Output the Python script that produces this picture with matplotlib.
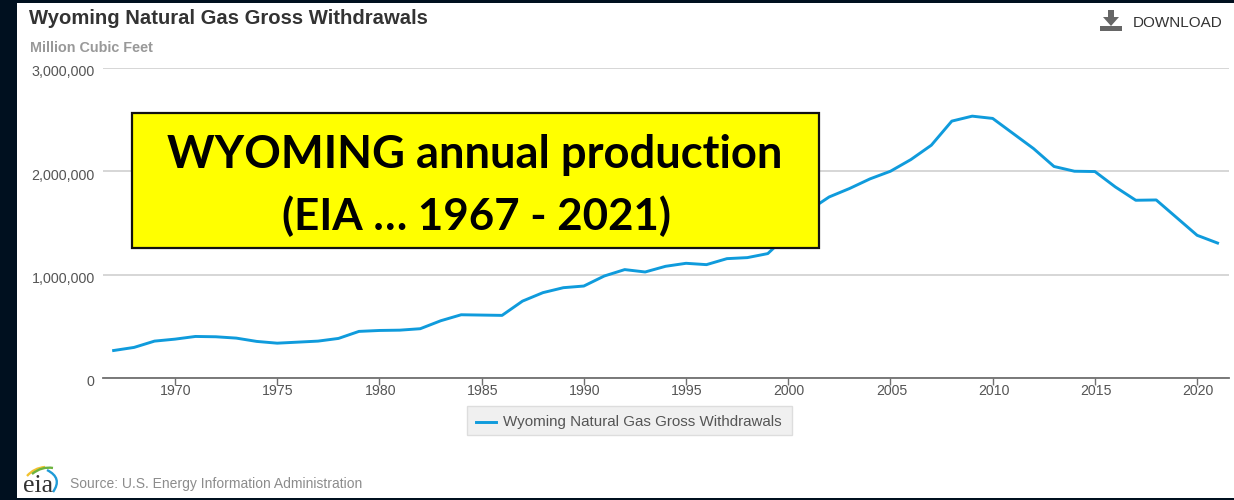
import matplotlib
matplotlib.use('Agg')
import matplotlib.pyplot as plt
from matplotlib.patches import Rectangle, Polygon, PathPatch
from matplotlib.path import Path
from matplotlib.transforms import ScaledTranslation

W, H = 1234, 500

years = list(range(1967, 2022))
gas = [266, 296, 357, 376, 402, 399, 386, 354, 337, 347,
       357, 383, 451, 460, 463, 477, 554, 612, 609, 606,
       744, 826, 874, 890, 987, 1049, 1026, 1081, 1110, 1097,
       1155, 1165, 1204, 1390, 1620, 1752, 1834, 1927, 2001, 2114,
       2253, 2486, 2534, 2512, 2366, 2220, 2047, 2001, 1998, 1849,
       1720, 1723, 1552, 1381, 1306]
gas = [v * 1000 for v in gas]

yticks = [0, 1000000, 2000000, 3000000]
xticks = list(range(1970, 2021, 5))
series_name = 'Wyoming Natural Gas Gross Withdrawals'
blue = '#0f9bdc'

plt.rcParams['font.family'] = ['Liberation Sans', 'DejaVu Sans']
fig = plt.figure(figsize=(W / 100, H / 100), dpi=100, facecolor='#00101f')

# whole figure in pixels, for the page furniture
page = fig.add_axes([0, 0, 1, 1], zorder=0)
page.set_xlim(0, W)
page.set_ylim(H, 0)
page.axis('off')
page.add_patch(Rectangle((17, 3), W - 17, 495, fc='white', ec='none'))

# plot area
ax = fig.add_axes([103 / W, 1 - 378 / H, 1126 / W, 310 / H], zorder=1)
ax.patch.set_alpha(0)
ax.plot(years, gas, color=blue, lw=2.1, solid_joinstyle='round', zorder=3, label=series_name)
ax.set_xlim(1966.48, 2021.56)
ax.set_ylim(0, 3000000)
ax.set_yticks(yticks)
ax.set_yticklabels([f'{v:,}' for v in yticks])
ax.set_xticks(xticks)
ax.grid(axis='y', color='#cfcfcf', lw=1.2)
ax.set_axisbelow(True)
for s in ['top', 'right', 'left']:
    ax.spines[s].set_visible(False)
ax.spines['bottom'].set_color('#707070')
ax.spines['bottom'].set_linewidth(1.3)
ax.tick_params(axis='y', length=0, pad=6, labelsize=10.3, labelcolor='#555555')
ax.tick_params(axis='x', length=5, width=1, color='#707070', pad=-1, labelsize=10.2, labelcolor='#555555')
# labels sit a bit off the tick in the original
px = 1 / fig.dpi
for t in ax.get_yticklabels():
    t.set_transform(t.get_transform() + ScaledTranslation(0, -3 * px, fig.dpi_scale_trans))
for t in ax.get_xticklabels():
    t.set_transform(t.get_transform() + ScaledTranslation(1 * px, 0, fig.dpi_scale_trans))

# headings
page.text(29, 19, series_name, fontsize=14.6, fontweight='bold', color='#333333', va='center')
page.text(30, 47.5, 'Million Cubic Feet', fontsize=10.4, fontweight='bold', color='#999999', va='center')
page.text(1133, 23, 'DOWNLOAD', fontsize=11, color='#333333', va='center')

# download icon
page.add_patch(Rectangle((1100, 26), 22, 5, fc='#666666', ec='none'))
page.add_patch(Polygon([(1108, 10), (1114, 10), (1114, 17), (1119, 17), (1111, 26), (1103, 17), (1108, 17)],
                       fc='#666666', ec='none'))

# legend box
page.add_patch(Rectangle((466.5, 405.5), 325, 29, fc='#f0f0f0', ec='#dddddd', lw=1))
page.plot([476, 496], [422, 422], color=blue, lw=2.1)
page.text(503, 422, series_name, fontsize=10.9, color='#555555', va='center')

# source line and eia mark
page.text(70.5, 484, 'Source: U.S. Energy Information Administration', fontsize=10, color='#8c8c8c', va='center')
page.text(22.5, 492, 'eia', fontsize=18.5, family='Liberation Serif', color='#333333', va='baseline')
for pts, col in [([(27, 476), (34, 468), (45, 467)], '#f2c230'),
                 ([(32, 474), (42, 466), (53, 468)], '#6cb33f'),
                 ([(47, 470), (63, 478), (53, 492)], '#1f9bd7')]:
    page.add_patch(PathPatch(Path(pts, [Path.MOVETO, Path.CURVE3, Path.CURVE3]), fc='none', ec=col, lw=1.7))

# yellow call-out on top of the chart
over = fig.add_axes([0, 0, 1, 1], zorder=2)
over.set_xlim(0, W)
over.set_ylim(H, 0)
over.axis('off')
over.add_patch(Rectangle((132, 113), 687, 135, fc='#ffff00', ec='#111111', lw=1.6))
over.text(475, 155.5, 'WYOMING annual production', fontsize=32.7, fontweight='bold',
          family=['Lato', 'DejaVu Sans'], color='black', ha='center', va='center')
over.text(476, 216, '(EIA … 1967 - 2021)', fontsize=31.6, fontweight='bold',
          family=['Lato', 'DejaVu Sans'], color='black', ha='center', va='center')

fig.savefig('out.png', dpi=100, facecolor=fig.get_facecolor())
